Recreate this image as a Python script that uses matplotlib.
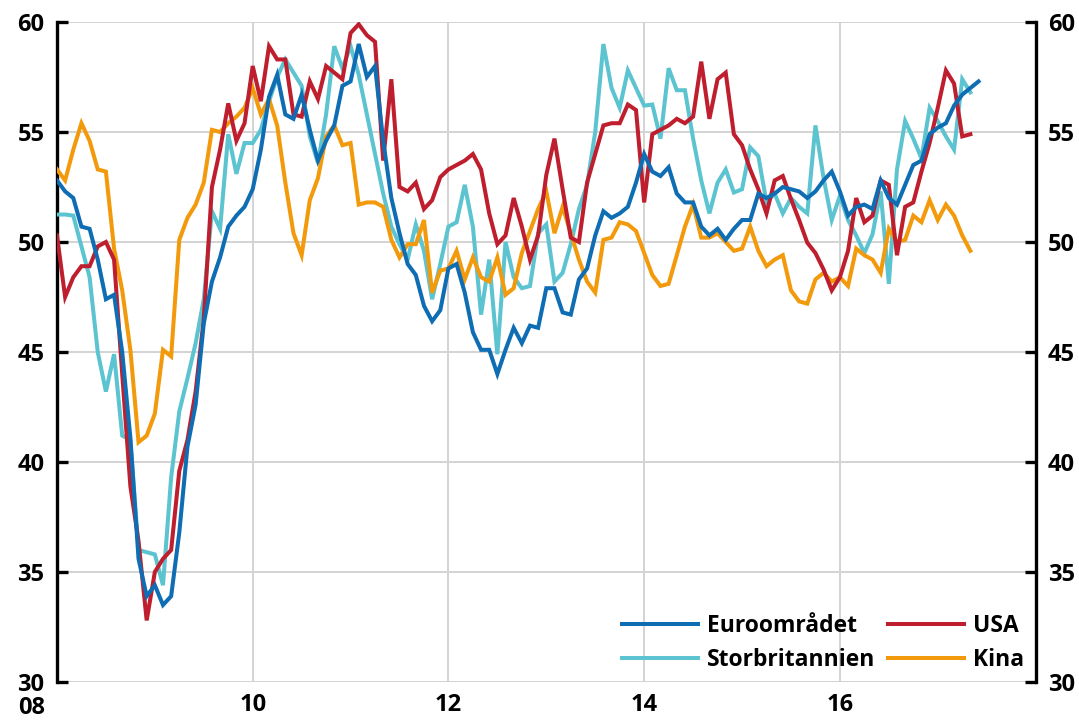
import numpy as np
import matplotlib
matplotlib.use("Agg")
import matplotlib.pyplot as plt

# Manufacturing PMI, monthly from January 2008
start_year = 2008

euro = [52.8, 52.3, 52.0, 50.7, 50.6, 49.2, 47.4, 47.6, 45.0, 41.1, 35.6, 33.9,
        34.4, 33.5, 33.9, 36.8, 40.7, 42.6, 46.3, 48.2, 49.3, 50.7, 51.2, 51.6,
        52.4, 54.2, 56.6, 57.6, 55.8, 55.6, 56.7, 55.1, 53.7, 54.6, 55.3, 57.1,
        57.3, 59.0, 57.5, 58.0, 54.6, 52.0, 50.4, 49.0, 48.5, 47.1, 46.4, 46.9,
        48.8, 49.0, 47.7, 45.9, 45.1, 45.1, 44.0, 45.1, 46.1, 45.4, 46.2, 46.1,
        47.9, 47.9, 46.8, 46.7, 48.3, 48.8, 50.3, 51.4, 51.1, 51.3, 51.6, 52.7,
        54.0, 53.2, 53.0, 53.4, 52.2, 51.8, 51.8, 50.7, 50.3, 50.6, 50.1, 50.6,
        51.0, 51.0, 52.2, 52.0, 52.2, 52.5, 52.4, 52.3, 52.0, 52.3, 52.8, 53.2,
        52.3, 51.2, 51.6, 51.7, 51.5, 52.8, 52.0, 51.7, 52.6, 53.5, 53.7, 54.9,
        55.2, 55.4, 56.2, 56.7, 57.0, 57.3]

uk = [51.25, 51.25, 51.2, 49.8, 48.4, 45.0, 43.2, 44.9, 41.2, 41.0, 36.0, 35.9,
      35.8, 34.4, 39.3, 42.3, 43.8, 45.4, 47.4, 51.4, 50.6, 54.9, 53.1, 54.5,
      54.5, 55.1, 56.4, 57.5, 58.3, 57.7, 57.1, 54.8, 53.6, 55.8, 58.9, 57.9,
      58.9, 57.6, 55.8, 54.0, 52.2, 50.7, 49.9, 49.2, 50.8, 49.6, 47.4, 49.0,
      50.7, 50.9, 52.6, 50.7, 46.7, 49.2, 44.9, 50.0, 48.4, 47.9, 48.0, 50.4,
      50.8, 48.2, 48.6, 49.9, 51.5, 52.6, 55.0, 59.0, 57.0, 56.1, 57.8, 57.0,
      56.2, 56.25, 54.7, 57.9, 56.9, 56.9, 54.7, 52.8, 51.3, 52.7, 53.3, 52.25,
      52.4, 54.3, 53.9, 51.8, 52.2, 51.3, 52.0, 51.6, 51.3, 55.3, 52.9, 51.0,
      52.1, 51.0, 50.3, 49.5, 50.35, 52.3, 48.1, 53.3, 55.5, 54.7, 53.8, 56.1,
      55.5, 54.8, 54.2, 57.4, 56.8]

usa = [50.3, 47.5, 48.4, 48.9, 48.9, 49.8, 50.0, 49.2, 44.0, 38.9, 36.4, 32.8,
       35.0, 35.6, 36.0, 39.6, 41.0, 43.2, 46.5, 52.5, 54.2, 56.3, 54.6, 55.4,
       58.0, 56.4, 58.9, 58.3, 58.3, 55.8, 55.7, 57.3, 56.5, 58.0, 57.7, 57.4,
       59.5, 59.9, 59.4, 59.1, 53.7, 57.4, 52.5, 52.3, 52.7, 51.5, 51.9, 52.95,
       53.3, 53.5, 53.7, 54.0, 53.3, 51.3, 49.9, 50.3, 52.0, 50.7, 49.2, 50.3,
       53.05, 54.7, 52.4, 50.2, 50.0, 52.7, 54.0, 55.3, 55.4, 55.4, 56.25, 56.0,
       51.8, 54.9, 55.1, 55.3, 55.6, 55.4, 55.7, 58.2, 55.6, 57.4, 57.7, 54.9,
       54.4, 53.3, 52.4, 51.3, 52.8, 53.0, 51.95, 51.0, 49.97, 49.5, 48.75, 47.8,
       48.4, 49.6, 52.0, 50.9, 51.2, 52.8, 52.6, 49.4, 51.6, 51.8, 53.2, 54.5,
       56.1, 57.8, 57.2, 54.8, 54.9]

china = [53.3, 52.8, 54.2, 55.4, 54.6, 53.3, 53.2, 49.7, 47.8, 45.1, 40.9, 41.2,
         42.2, 45.1, 44.8, 50.1, 51.1, 51.7, 52.7, 55.1, 55.0, 55.4, 55.7, 56.1,
         57.0, 55.8, 56.5, 55.3, 52.7, 50.4, 49.4, 51.9, 52.9, 54.8, 55.3, 54.4,
         54.5, 51.7, 51.8, 51.8, 51.6, 50.1, 49.3, 49.9, 49.9, 51.0, 47.7, 48.7,
         48.8, 49.6, 48.3, 49.3, 48.4, 48.2, 49.3, 47.6, 47.9, 49.5, 50.5, 51.5,
         52.3, 50.4, 51.6, 50.4, 49.2, 48.2, 47.7, 50.1, 50.2, 50.9, 50.8, 50.5,
         49.5, 48.5, 48.0, 48.1, 49.4, 50.7, 51.7, 50.2, 50.2, 50.4, 50.0, 49.6,
         49.7, 50.7, 49.6, 48.9, 49.2, 49.4, 47.8, 47.3, 47.2, 48.3, 48.6, 48.2,
         48.4, 48.0, 49.7, 49.4, 49.2, 48.6, 50.6, 50.0, 50.1, 51.2, 50.9, 51.9,
         51.0, 51.7, 51.2, 50.3, 49.6]

labels = ["Euroområdet", "Storbritannien", "USA", "Kina"]
colors = ["#0F6DB3", "#5CC3D1", "#BE1E2D", "#F39A0C"]

x_ticks = [2008, 2010, 2012, 2014, 2016]
x_ticklabels = ["08", "10", "12", "14", "16"]
y_ticks = [30, 35, 40, 45, 50, 55, 60]

FONT = ["Open Sans", "DejaVu Sans"]
plt.rcParams["font.family"] = FONT
TICK_SIZE = 17

fig = plt.figure(figsize=(10.79, 7.27), dpi=100)
ax = fig.add_axes([0.0528, 0.0619, 0.907, 0.9078])


def months(values):
    return start_year + np.arange(len(values)) / 12.0


series = dict(zip(labels, [euro, uk, usa, china]))
handles = {}
for name in ["Storbritannien", "Kina", "USA", "Euroområdet"]:
    vals = series[name]
    (ln,) = ax.plot(months(vals), vals, color=colors[labels.index(name)],
                    lw=2.9, solid_joinstyle="miter", label=name, zorder=3)
    handles[name] = ln

ax.set_xlim(2008, 2018)
ax.set_ylim(30, 60)

ax.set_yticks(y_ticks)
ax.set_xticks(x_ticks[1:] + [2018])
ax.set_xticklabels(x_ticklabels[1:] + [""])
ax.grid(True, color="#D3D3D3", lw=1.4, zorder=0)
ax.set_axisbelow(True)

for side in ["top", "bottom"]:
    ax.spines[side].set_visible(False)
for side in ["left", "right"]:
    ax.spines[side].set_linewidth(2.4)
    ax.spines[side].set_color("black")

ax.tick_params(axis="x", length=0, pad=8, labelsize=TICK_SIZE)
ax.tick_params(axis="y", direction="in", length=8, width=2.4, labelsize=TICK_SIZE,
               pad=9, left=True, right=True, labelleft=True, labelright=True)
for t in ax.xaxis.get_major_ticks() + ax.yaxis.get_major_ticks():
    t.label1.set_fontweight("bold")
    t.label2.set_fontweight("bold")

# the first year label sits left of the axis line, below the lowest y label
fig.text(45 / 1079, 1 - 714 / 727, x_ticklabels[0], ha="right", va="baseline",
         fontsize=TICK_SIZE, fontweight="bold")

leg = ax.legend([handles[n] for n in labels], labels, ncol=2, frameon=False,
                loc="lower right", bbox_to_anchor=(1024 / 1079, 55 / 727),
                bbox_transform=fig.transFigure, borderpad=0, borderaxespad=0,
                handlelength=3.3, handletextpad=0.4, columnspacing=0.55,
                labelspacing=0.45, prop={"weight": "bold", "size": 16.5})
for ln in leg.get_lines():
    ln.set_linewidth(2.9)

fig.savefig("out.png", dpi=100)
